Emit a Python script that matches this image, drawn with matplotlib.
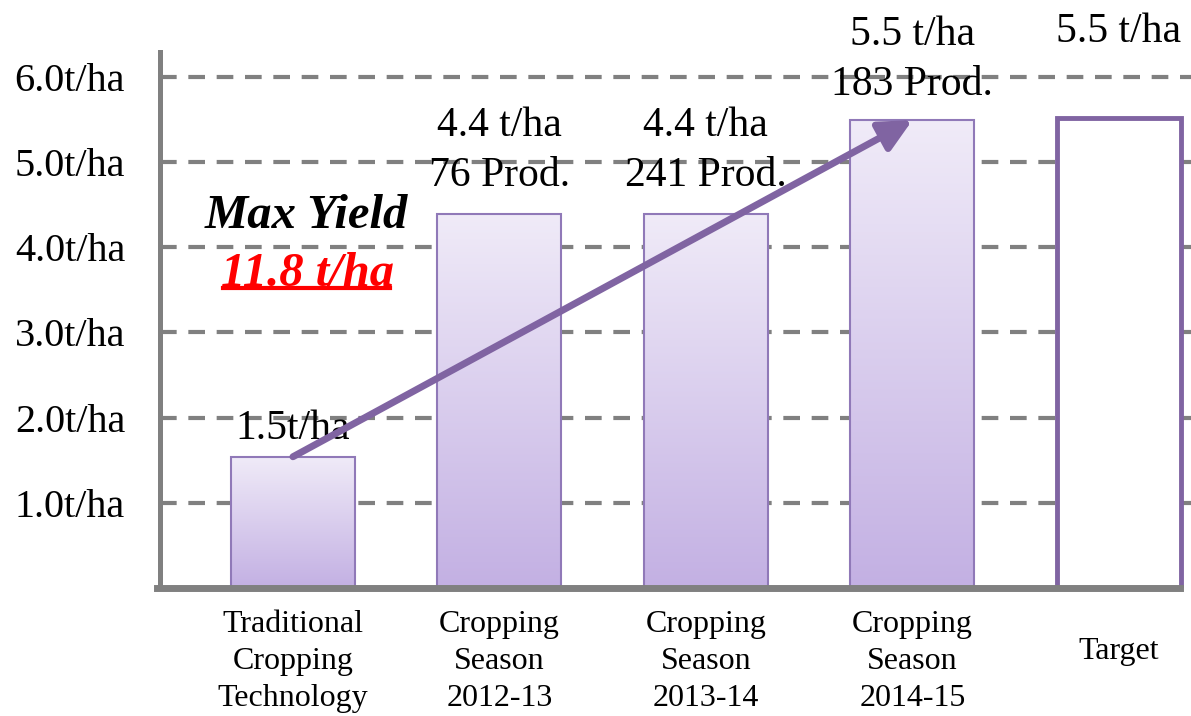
import numpy as np
import matplotlib
matplotlib.use('Agg')
import matplotlib.pyplot as plt
from matplotlib.colors import LinearSegmentedColormap
from matplotlib.patches import Rectangle
from matplotlib.lines import Line2D
from matplotlib.transforms import ScaledTranslation

plt.rcParams['font.family'] = ['Liberation Serif', 'DejaVu Serif']

# values
categories = ['Traditional\nCropping\nTechnology', 'Cropping\nSeason\n2012-13',
              'Cropping\nSeason\n2013-14', 'Cropping\nSeason\n2014-15', 'Target']
yields = [1.54, 4.39, 4.39, 5.49, 5.52]
bar_labels = ['1.5t/ha', '4.4 t/ha\n76 Prod.', '4.4 t/ha\n241 Prod.',
              '5.5 t/ha\n183 Prod.', '5.5 t/ha']
yticks = [1, 2, 3, 4, 5, 6]
ytick_labels = ['1.0t/ha', '2.0t/ha', '3.0t/ha', '4.0t/ha', '5.0t/ha', '6.0t/ha']
max_yield_label = 'Max Yield'
max_yield_value = '11.8 t/ha'

label_offsets = [6, 13.5, 13.5, 11.5, 48]   # points above bar top

fig = plt.figure(figsize=(11.91, 7.16), dpi=100)
ax = fig.add_axes([0.1343, 0.1788, 0.8657, 0.7486])

grey = '#808080'
purple = '#8064a2'
edge = '#9079b8'
cmap = LinearSegmentedColormap.from_list('bar', ['#c3b0e3', '#f0ebf8'])

x = np.arange(len(categories))
w = 0.6

# gradient bars (first four), outlined target bar
for i in range(len(categories) - 1):
    rect = Rectangle((x[i] - w / 2, 0), w, yields[i], facecolor='none',
                     edgecolor=edge, lw=1.5, zorder=3)
    ax.add_patch(rect)
    grad = np.linspace(0, 1, 256).reshape(-1, 1)
    im = ax.imshow(grad, cmap=cmap, origin='lower', aspect='auto',
                   extent=[x[i] - w / 2, x[i] + w / 2, 0, yields[i]], zorder=2)
    im.set_clip_path(rect)

target = Rectangle((x[-1] - w / 2, 0), w, yields[-1], facecolor='white',
                   edgecolor=purple, lw=3.5, zorder=3)
ax.add_patch(target)

for i, lab in enumerate(bar_labels):
    ax.annotate(lab, (x[i], yields[i]), xytext=(0, label_offsets[i]),
                textcoords='offset points', ha='center', va='bottom',
                fontsize=30, linespacing=1.4, zorder=5)

# trend arrow from first to fourth bar
ax.annotate('', xy=(x[3], yields[3]), xytext=(x[0], yields[0]),
            arrowprops=dict(arrowstyle='-|>,head_length=0.65,head_width=0.32',
                            color=purple, lw=5, mutation_scale=30,
                            shrinkA=0, shrinkB=0), zorder=6)

ax.text(0.065, 4.36, max_yield_label, fontsize=35, fontweight='bold',
        fontstyle='italic', ha='center', va='center', zorder=5)
red_txt = ax.text(0.07, 3.68, max_yield_value, fontsize=35, fontweight='bold',
                  fontstyle='italic', color='#ff0000', ha='center', va='center',
                  zorder=5)

ax.set_xlim(-0.644, 4.349)
ax.set_ylim(0, 6.29)

ax.set_yticks(yticks)
ax.set_yticklabels(ytick_labels, fontsize=29)
ax.set_xticks(x)
ax.set_xticklabels(categories, fontsize=23, linespacing=1.36)
ax.tick_params(axis='y', length=0, pad=25)
ax.tick_params(axis='x', length=0, pad=16)

# single-line "Target" label sits lower, centred on the others
tl = ax.get_xticklabels()[-1]
tl.set_transform(tl.get_transform() + ScaledTranslation(0, -19 / 72, fig.dpi_scale_trans))

ax.yaxis.grid(True, color=grey, lw=3, dashes=(4, 2.8))
ax.set_axisbelow(True)

for s in ['top', 'right']:
    ax.spines[s].set_visible(False)
ax.spines['left'].set_color(grey)
ax.spines['left'].set_linewidth(3.6)
ax.spines['bottom'].set_color(grey)
ax.spines['bottom'].set_linewidth(5)
ax.spines['bottom'].set_zorder(4)
ax.spines['bottom'].set_bounds(-0.66, 4.295)

# underline the red value
fig.canvas.draw()
bb = red_txt.get_window_extent()
inv = fig.transFigure.inverted()
(x0, y0), (x1, _) = inv.transform([(bb.x0 + 2, bb.y0 + 8), (bb.x1 - 4, bb.y0)])
fig.add_artist(Line2D([x0, x1], [y0, y0], color='#ff0000', lw=3))

fig.savefig('out.png', dpi=100)
